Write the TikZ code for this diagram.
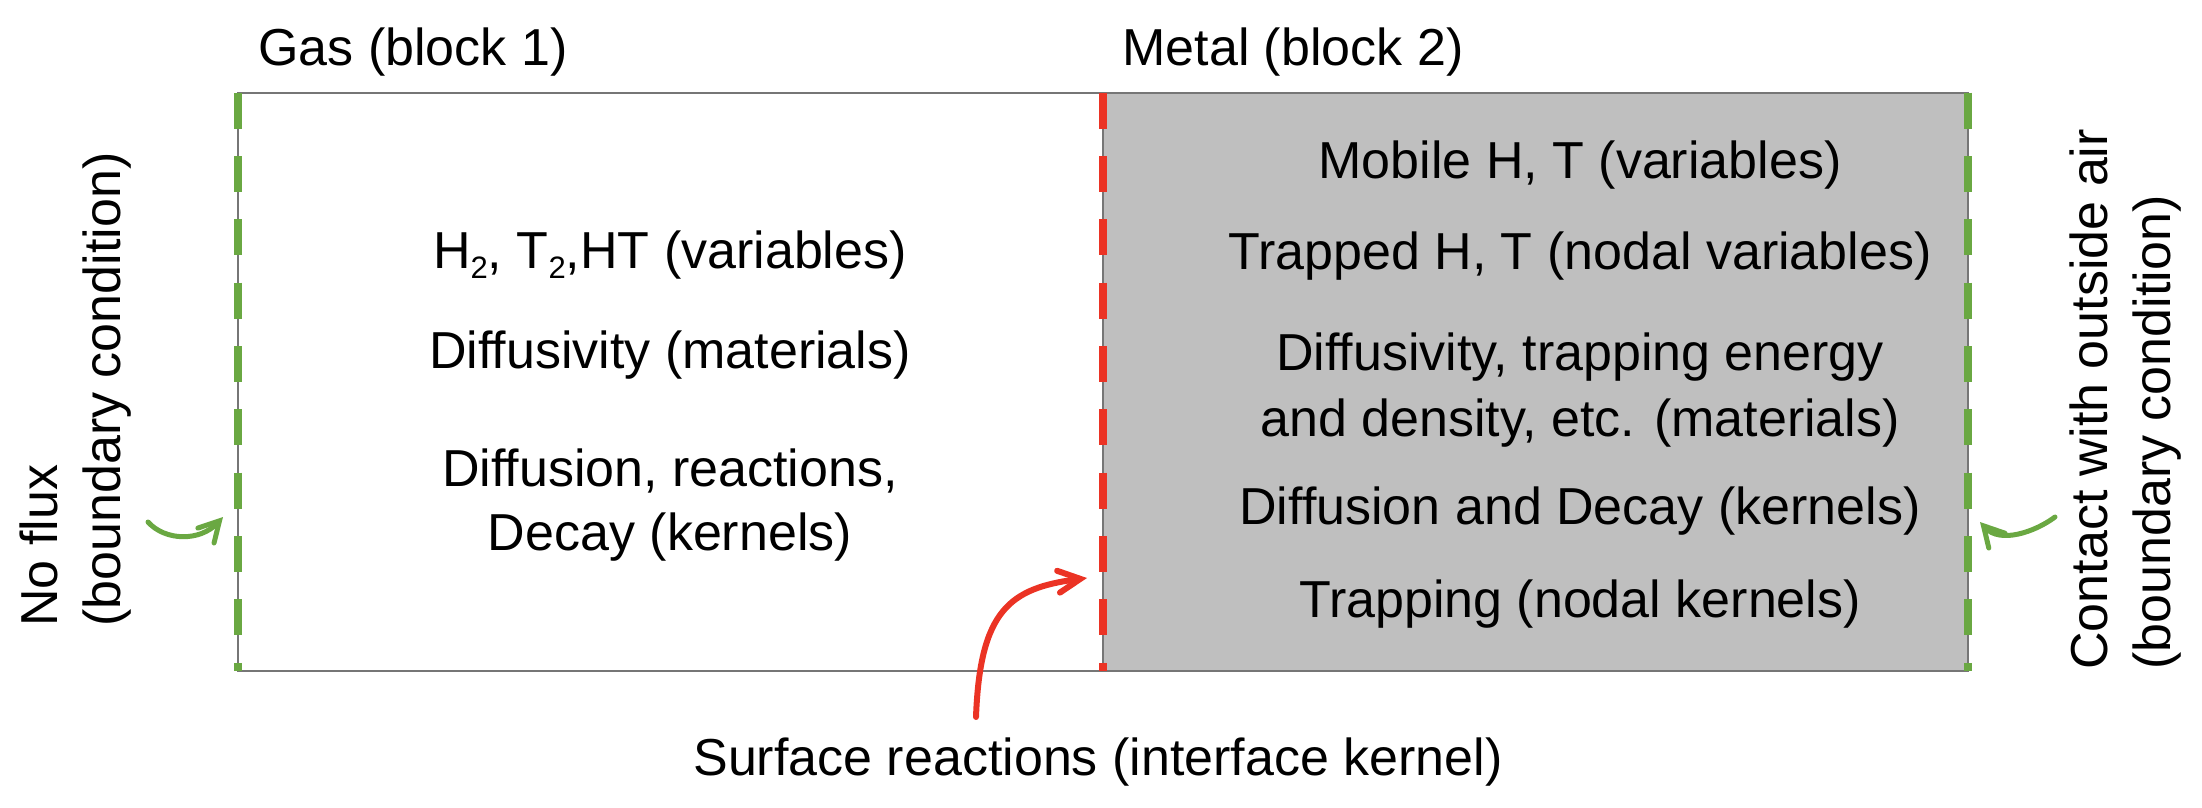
\documentclass[tikz,border=0pt]{standalone}
\usepackage{fontspec}
\setmainfont{Liberation Sans}
\usetikzlibrary{arrows.meta}
\definecolor{bcgreen}{HTML}{6AA842}
\definecolor{ifred}{HTML}{EB3324}
\definecolor{edgegray}{HTML}{767676}
\definecolor{metalgray}{HTML}{BFBFBF}
\newcommand{\subtwo}{\raisebox{-5.5pt}{\fontsize{15.5}{15.5}\selectfont 2}}
\begin{document}
\begin{tikzpicture}[x=0.5pt,y=-0.5pt,
  txt/.style={inner sep=0pt, font=\fontsize{26}{32}\selectfont},
  edge/.style={draw=edgegray, line width=1pt},
  bcline/.style={draw=bcgreen, line width=4.35pt, dash pattern=on 18pt off 13.67pt},
  ifline/.style={draw=ifred, line width=4.35pt, dash pattern=on 18pt off 13.67pt},
  bcarrow/.style={draw=bcgreen, line width=2.5pt, line cap=round,
    -{Straight Barb[length=10pt,width=11pt,line cap=round]}},
  ifarrow/.style={draw=ifred, line width=3pt, line cap=round,
    -{Straight Barb[length=11pt,width=11pt,line cap=round]}}]
\useasboundingbox (0,0) rectangle (2202,808);
% blocks
\fill[metalgray] (1103,92.7) rectangle (1968,670.7);
\coordinate (tl) at (238,92.7);
\coordinate (bl) at (238,670.7);
\coordinate (tm) at (1103,92.7);
\coordinate (bm) at (1103,670.7);
\coordinate (tr) at (1968,92.7);
\coordinate (br) at (1968,670.7);
\draw[edge] (tl) rectangle (br);
\draw[edge] (tm) -- (bm);
\draw[bcline] (tl) -- (bl);
\draw[bcline] (tr) -- (br);
\draw[ifline] (tm) -- (bm);
% titles
\node[txt, anchor=base west] (gas) at (258,66) {Gas (block 1)};
\node[txt, anchor=base west] (metal) at (1122,66) {Metal (block 2)};
% gas column
\node[txt, anchor=base] (gvar) at (670,268) {H\subtwo, T\subtwo,HT (variables)};
\node[txt, anchor=base] (gmat) at (670,368) {Diffusivity (materials)};
\node[txt, anchor=base, align=center] (gker) at (670,550) {Diffusion, reactions,\\ Decay (kernels)};
% metal column
\node[txt, anchor=base] (mvar) at (1580,178) {Mobile H, T (variables)};
\node[txt, anchor=base] (mnod) at (1580,270) {Trapped H, T (nodal variables)};
\node[txt, anchor=base, align=center, font=\fontsize{26}{33}\selectfont] (mmat) at (1580,436) {Diffusivity, trapping energy\\and density, etc. (materials)};
\node[txt, anchor=base] (mker) at (1580,524) {Diffusion and Decay (kernels)};
\node[txt, anchor=base] (mnk) at (1580,617) {Trapping (nodal kernels)};
% side labels
\node[txt, rotate=90, anchor=base west, align=left, font=\fontsize{26}{31.5}\selectfont] (noflux) at (120,627) {No flux\\(boundary condition)};
\node[txt, rotate=90, anchor=base west, align=left, font=\fontsize{26}{31.5}\selectfont] (contact) at (2170,670) {Contact with outside air\\(boundary condition)};
% bottom label
\node[txt, anchor=base] (surf) at (1098,775) {Surface reactions (interface kernel)};
% arrows
\coordinate (la0) at (148,522);
\coordinate (la1) at (223,517);
\draw[bcarrow] (la0) .. controls (165,541) and (200,542) .. (la1);
\coordinate (ra0) at (2055,517);
\coordinate (ra1) at (1980,522);
\draw[bcarrow] (ra0) .. controls (2035,532) and (2000,544) .. (ra1);
\coordinate (ia0) at (976,717);
\coordinate (ia1) at (1087,578);
\draw[ifarrow] (ia0) .. controls (980,610) and (1010,588) .. (ia1);
\end{tikzpicture}
\end{document}
